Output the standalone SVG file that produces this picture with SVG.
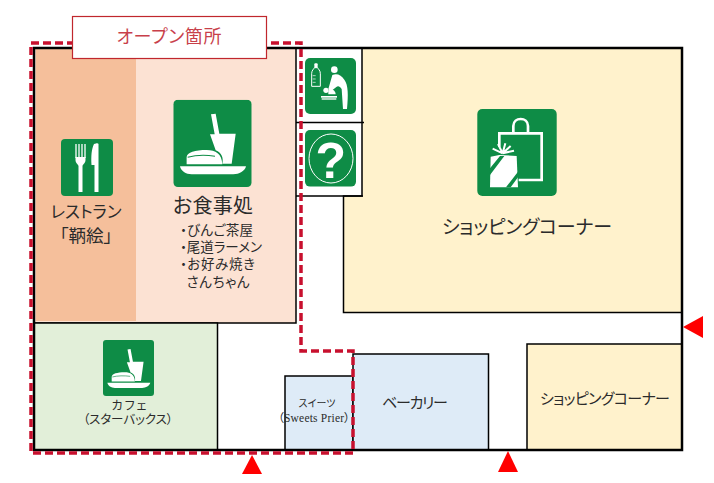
<svg xmlns="http://www.w3.org/2000/svg" width="714" height="483" viewBox="0 0 714 483">
<style>
text{font-family:"Noto Sans CJK JP","Noto Sans",sans-serif;fill:#2b2b2b;font-weight:400;text-anchor:middle;font-feature-settings:"palt"}
.l{text-anchor:start}
.room{stroke:#000;stroke-width:1.5}
.ic{fill:#0e8c46}
.w{fill:#fff}
.ws{fill:none;stroke:#fff}
.tri{fill:#f00}
</style>
<defs>
<symbol id="food" viewBox="25 14 235 262" preserveAspectRatio="none">
<rect class="ic" x="25" y="14" width="235" height="262" rx="14"/>
<path class="w" d="M138 58L152 56L163 116H212L200 206H172C176 190 170 172 152 166L135 118H149Z"/>
<path class="w" d="M65 208V186C66 172 90 165 125 165C152 165 170 176 172 208Z"/>
<path d="M68 187C90 181 125 180 150 184" fill="none" stroke="#0e8c46" stroke-width="3"/>
<path class="w" d="M45 214H243C240 228 222 238 205 238H80C62 238 48 228 45 214Z"/>
</symbol>
</defs>
<rect width="714" height="483" fill="#fff"/>
<g id="restaurant-area">
<rect x="34" y="48" width="262" height="275" fill="#fce2d3" class="room"/>
<rect x="36" y="49" width="100" height="272" fill="#f5bf9b"/>
</g>
<g id="restaurant">
<rect class="ic" x="61" y="139" width="52" height="57" rx="4"/>
<path d="M76 144V158M79 144V158M82 144V158M85 144V158" fill="none" stroke="#fff" stroke-width="1.300"/>
<path class="w" d="M75.500 157H85.500V160C85.500 163 83 164 82.500 166V192H78.500V166C78 164 75.500 163 75.500 160Z"/>
<path class="w" d="M94 144C97 143 98 143 98.500 144V192H94.500V165H91.500C91 156 91.500 149 94 144Z"/>
<text x="86" y="218" font-size="16.500" textLength="71">レストラン</text>
<text x="86" y="242" font-size="17.500">「鞆絵」</text>
</g>
<g id="dining">
<use href="#food" x="173.300" y="99.700" width="78.400" height="87.300"/>
<text x="213" y="213" font-size="20" textLength="80">お食事処</text>
<text class="l" x="180" y="235" font-size="13.500" textLength="73">・びんご茶屋</text>
<text class="l" x="180" y="252" font-size="13.500" textLength="82">・尾道ラーメン</text>
<text class="l" x="180" y="269" font-size="13.500" textLength="75">・お好み焼き</text>
<text x="218" y="287" font-size="13.500" textLength="63">さんちゃん</text>
</g>
<g id="cafe">
<rect x="34" y="323" width="183.500" height="127" fill="#e2efd9" class="room"/>
<use href="#food" x="103" y="340" width="51" height="56"/>
<text x="129" y="410" font-size="12" textLength="35">カフェ</text>
<text x="128" y="424" font-size="12.500" textLength="90">（スターバックス）</text>
</g>
<g id="sweets">
<rect x="285" y="376" width="68" height="74" fill="#deebf7" class="room"/>
<text x="317" y="407" font-size="10" textLength="37">スイーツ</text>
<text x="314" y="422" font-size="11.500" textLength="72" style="font-family:'Liberation Serif','Noto Sans CJK JP',serif;font-weight:400">（Sweets Prier）</text>
</g>
<g id="bakery">
<rect x="353" y="354" width="135.500" height="96" fill="#deebf7" class="room"/>
<text x="415" y="408" font-size="15" textLength="66">ベーカリー</text>
</g>
<g id="shopping-small">
<rect x="527" y="344" width="155" height="106" fill="#fff2cc" class="room"/>
<text x="605" y="404" font-size="15" textLength="130">ショッピングコーナー</text>
</g>
<g id="shopping-main">
<path d="M362 48H682V312.500H343.500V196H362Z" fill="#fff2cc" class="room"/>
<rect class="ic" x="477.300" y="109" width="79.400" height="87" rx="5"/>
<g transform="translate(470 100) scale(.3333)">
<path class="ws" stroke-width="8" d="M88 140V100H215V240H146"/>
<path class="ws" stroke-width="8" d="M130 100V78C130 50 174 50 174 78V100"/>
<path class="w" d="M62 170L88 165L140 168L144 262H60Z"/>
<path d="M60 205L90 168H103L60 225ZM144 215V232L122 262H108Z" fill="#0e8c46"/>
<path class="ws" stroke-width="6" d="M98 160L68 146M98 160L84 132M98 160L106 130M98 160L122 138M98 160L132 152"/>
</g>
<text x="527" y="234" font-size="19" textLength="170">ショッピングコーナー</text>
</g>
<g id="nursing">
<path d="M296 122.600H364M296 196H363" fill="none" stroke="#000" stroke-width="1.500"/>
<rect class="ic" x="305" y="58" width="51" height="56" rx="5"/>
<g transform="translate(295 45) scale(.3333)">
<path class="ws" stroke-width="3" d="M50 85C50 76 57 72 58 68H68C69 72 76 76 76 85V124H50Z"/>
<rect class="w" x="58" y="55" width="10" height="13" rx="3"/>
<path class="ws" stroke-width="2" d="M53 92H62M53 102H62M53 112H62"/>
<circle class="w" cx="118" cy="74" r="10"/>
<path class="w" d="M112 90C125 84 140 90 148 104C160 120 160 150 156 192H144L140 132C134 122 128 122 124 126L106 140L100 132Z"/>
<circle class="w" cx="93" cy="136" r="8"/>
<path class="w" d="M100 137C110 128 122 136 122 148H100Z"/>
<rect class="w" x="78" y="153" width="48" height="5"/>
<rect class="w" x="80" y="160" width="44" height="4"/>
</g>
</g>
<g id="information">
<rect class="ic" x="305" y="130" width="51" height="56.600" rx="5"/>
<ellipse cx="331" cy="158.500" rx="22" ry="24.500" fill="none" stroke="#fff" stroke-width="1"/>
<text x="330.700" y="178" font-size="50" style="font-family:'Liberation Sans',sans-serif;font-weight:700;fill:#fff">?</text>
</g>
<g id="frame">
<rect x="34" y="48" width="648" height="402" fill="none" stroke="#000" stroke-width="2.500"/>
</g>
<g id="entrances">
<path class="tri" d="M252 455L262 474H242Z"/>
<path class="tri" d="M508 451L518 472H498Z"/>
<path class="tri" d="M683 327L703 316V338Z"/>
</g>
<g id="connectors">
<path d="M31 43H301V351H353V453H31Z" fill="none" stroke="#c8102e" stroke-width="3.500" stroke-dasharray="8 4"/>
</g>
<g id="open-label">
<rect x="72.500" y="16.500" width="194" height="42" fill="#fff" stroke="#c0272d" stroke-width="1.200"/>
<text x="169" y="43" font-size="18" textLength="105" style="fill:#c8404a">オープン箇所</text>
</g>
</svg>
